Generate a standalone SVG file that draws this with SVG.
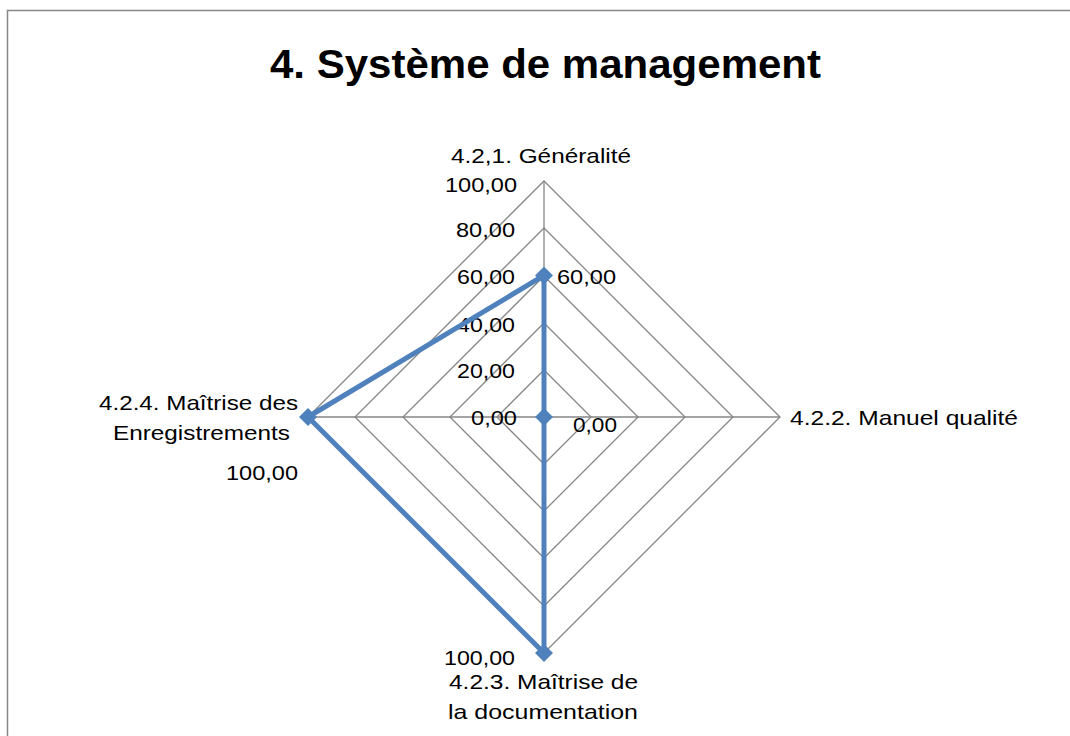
<svg xmlns="http://www.w3.org/2000/svg" width="1070" height="736" viewBox="0 0 1070 736">
<style>
.grid{fill:none;stroke:#868686;stroke-width:1.3}
.lbl{font-family:"Liberation Sans",Arial,sans-serif;font-size:21px;fill:#000}
.title{font-family:"Liberation Sans",Arial,sans-serif;font-size:41px;font-weight:bold;fill:#000}
.series{fill:none;stroke:#4F81BD;stroke-width:5;stroke-linejoin:round}
.mk{fill:#4F81BD}
</style>
<defs>
<path id="dia" d="M0,-9 L9,0 L0,9 L-9,0 Z"/>
</defs>
<rect x="7.5" y="10.5" width="1100" height="760" fill="#fff" stroke="#868686" stroke-width="1.5"/>
<text class="title" x="270" y="78" textLength="551" lengthAdjust="spacingAndGlyphs">4. Système de management</text>
<g id="grid">
<polygon class="grid" points="544,370 591,417 544,464 497,417"/>
<polygon class="grid" points="544,323 638,417 544,511 450,417"/>
<polygon class="grid" points="544,276 685,417 544,558 403,417"/>
<polygon class="grid" points="544,228 733,417 544,606 355,417"/>
<polygon class="grid" points="544,181 780,417 544,653 308,417"/>
<line class="grid" x1="544" y1="417" x2="544" y2="181"/>
<line class="grid" x1="544" y1="417" x2="780" y2="417"/>
<line class="grid" x1="544" y1="417" x2="544" y2="653"/>
<line class="grid" x1="544" y1="417" x2="308" y2="417"/>
</g>
<g id="axis-labels">
<text class="lbl" x="445" y="192" textLength="72" lengthAdjust="spacingAndGlyphs">100,00</text>
<text class="lbl" x="456" y="237" textLength="59" lengthAdjust="spacingAndGlyphs">80,00</text>
<text class="lbl" x="457" y="284" textLength="58" lengthAdjust="spacingAndGlyphs">60,00</text>
<text class="lbl" x="457" y="332" textLength="58" lengthAdjust="spacingAndGlyphs">40,00</text>
<text class="lbl" x="457" y="378" textLength="58" lengthAdjust="spacingAndGlyphs">20,00</text>
<text class="lbl" x="471" y="425" textLength="46" lengthAdjust="spacingAndGlyphs">0,00</text>
</g>
<g id="connectors">
<polyline class="series" points="544,275.4 544,417 544,653 308,417 544,275.4"/>
</g>
<g id="node-generalite">
<use href="#dia" class="mk" x="544" y="275.4"/>
<text class="lbl" x="451" y="163" textLength="180" lengthAdjust="spacingAndGlyphs">4.2,1. Généralité</text>
<text class="lbl" x="557" y="284" textLength="59" lengthAdjust="spacingAndGlyphs">60,00</text>
</g>
<g id="node-manuel">
<use href="#dia" class="mk" x="544" y="417"/>
<text class="lbl" x="790" y="425" textLength="228" lengthAdjust="spacingAndGlyphs">4.2.2. Manuel qualité</text>
<text class="lbl" x="573" y="432" textLength="44" lengthAdjust="spacingAndGlyphs">0,00</text>
</g>
<g id="node-documentation">
<use href="#dia" class="mk" x="544" y="653"/>
<text class="lbl" x="444" y="665" textLength="71" lengthAdjust="spacingAndGlyphs">100,00</text>
<text class="lbl" x="449" y="689" textLength="189" lengthAdjust="spacingAndGlyphs">4.2.3. Maîtrise de</text>
<text class="lbl" x="448" y="719" textLength="190" lengthAdjust="spacingAndGlyphs">la documentation</text>
</g>
<g id="node-enregistrements">
<use href="#dia" class="mk" x="308" y="417"/>
<text class="lbl" x="99" y="410" textLength="199" lengthAdjust="spacingAndGlyphs">4.2.4. Maîtrise des</text>
<text class="lbl" x="113" y="440" textLength="177" lengthAdjust="spacingAndGlyphs">Enregistrements</text>
<text class="lbl" x="226" y="480" textLength="72" lengthAdjust="spacingAndGlyphs">100,00</text>
</g>
</svg>
